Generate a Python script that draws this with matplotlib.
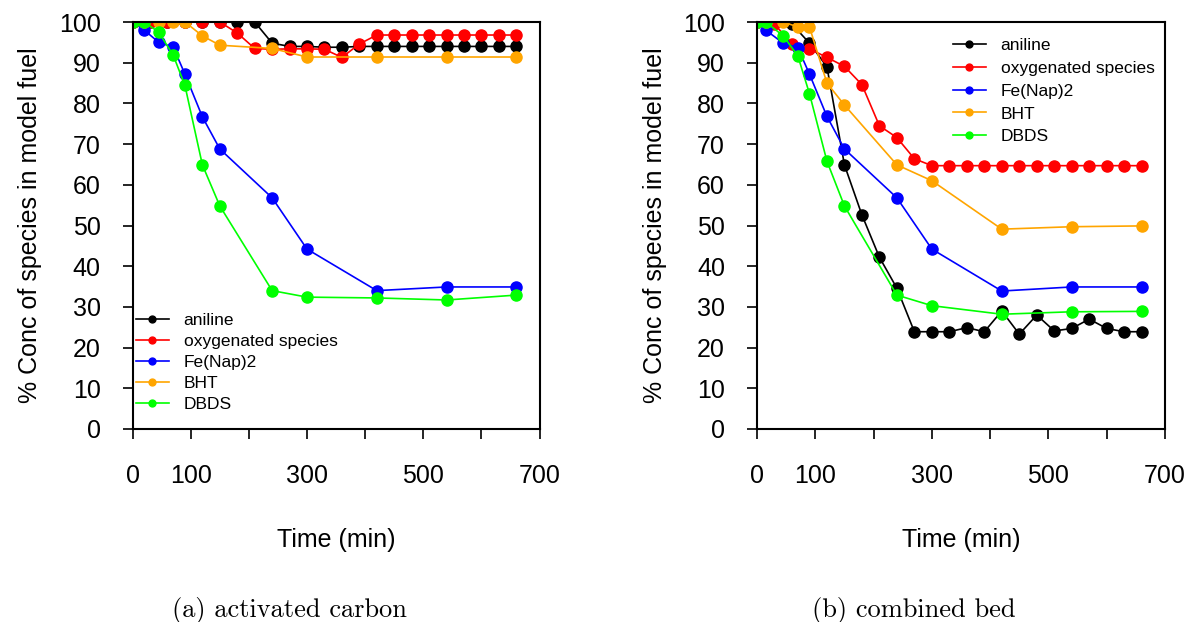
import matplotlib
matplotlib.use("Agg")
import matplotlib.pyplot as plt

# ---------------- data ----------------
t_30 = [0, 30, 60, 90, 120, 150, 180, 210, 240, 270, 300, 330, 360, 390,
        420, 450, 480, 510, 540, 570, 600, 630, 660]
t_ac = [0, 20, 45, 70, 90, 120, 150, 240, 300, 420, 540, 660]
t_cb = [0, 15, 45, 70, 90, 120, 150, 240, 300, 420, 540, 660]

# (a) activated carbon
ac_aniline = [100, 100, 100, 100, 100, 100, 100, 100, 94.8, 94.0, 94.0, 93.8,
              93.8, 94.0, 94.0, 94.0, 94.0, 94.0, 94.0, 94.0, 94.0, 94.0, 94.0]
ac_oxy = [100, 100, 100, 100, 100, 100, 97.3, 93.5, 93.3, 93.4, 93.4, 93.3,
          91.3, 94.6, 96.8, 96.8, 96.8, 96.8, 96.8, 96.8, 96.8, 96.8, 96.8]
ac_fe = [100, 98, 95, 93.8, 87.2, 76.7, 68.8, 56.8, 44.2, 34.0, 34.9, 34.9]
ac_bht = [100, 100, 100, 100, 100, 96.6, 94.3, 93.5, 91.4, 91.4, 91.4, 91.4]
ac_dbds = [100, 100, 97.5, 91.8, 84.4, 64.9, 54.8, 34.0, 32.4, 32.2, 31.7, 32.9]

# (b) combined bed
cb_aniline = [100, 100, 99.5, 94.8, 89.0, 64.9, 52.6, 42.2, 34.6, 23.9, 23.9,
              23.9, 24.9, 23.9, 29.0, 23.3, 28.0, 24.1, 24.7, 27.0, 24.7, 23.9, 23.9]
cb_oxy = [100, 99.5, 94.5, 93.4, 91.3, 89.1, 84.6, 74.5, 71.6, 66.4, 64.7, 64.7,
          64.7, 64.7, 64.7, 64.7, 64.7, 64.7, 64.7, 64.7, 64.7, 64.7, 64.7]
cb_fe = [100, 98, 94.8, 93.7, 87.2, 76.8, 68.8, 56.8, 44.2, 33.9, 34.9, 34.9]
cb_bht = [100, 100, 100, 98.8, 98.8, 85.0, 79.6, 64.9, 61.0, 49.1, 49.7, 49.9]
cb_dbds = [100, 100, 96.6, 91.7, 82.4, 65.8, 54.8, 32.9, 30.3, 28.2, 28.8, 28.9]

labels = ["aniline", "oxygenated species", "Fe(Nap)2", "BHT", "DBDS"]
colors = ["black", "#ff0000", "#0000ff", "#ffa500", "#00ff00"]

xticks = [0, 100, 200, 300, 400, 500, 600, 700]
xticklabels = ["0", "100", "", "300", "", "500", "", "700"]
yticks = list(range(0, 101, 10))

# ---------------- figure ----------------
plt.rcParams['font.family'] = ['Liberation Sans', 'DejaVu Sans']
W, H = 1186, 622
fig = plt.figure(figsize=(W / 100, H / 100), dpi=100)

def px(x0, y0, x1, y1):
    return [x0 / W, 1 - y1 / H, (x1 - x0) / W, (y1 - y0) / H]

ax1 = fig.add_axes(px(132.6, 22, 539.6, 429))
ax2 = fig.add_axes(px(757, 22, 1165, 429))

def draw(ax, series):
    for (t, v), lab, c in zip(series, labels, colors):
        ax.plot(t, v, color=c, lw=1.2, marker='o', ms=8, mec=c, mfc=c, label=lab)
    ax.set_xlim(0, 700)
    ax.set_ylim(0, 100)
    ax.set_xticks(xticks)
    ax.set_xticklabels(xticklabels)
    ax.set_yticks(yticks)
    ax.tick_params(axis='both', direction='out', length=7, width=1.2,
                   labelsize=18, top=False, right=False)
    ax.tick_params(axis='x', pad=18)
    ax.tick_params(axis='y', pad=16)
    for s in ax.spines.values():
        s.set_linewidth(1.5)
    ax.set_xlabel("Time (min)", fontsize=18, labelpad=29)
    ax.set_ylabel("% Conc of species in model fuel", fontsize=18, labelpad=12)

draw(ax1, [(t_30, ac_aniline), (t_30, ac_oxy), (t_ac, ac_fe), (t_ac, ac_bht), (t_ac, ac_dbds)])
draw(ax2, [(t_30, cb_aniline), (t_30, cb_oxy), (t_cb, cb_fe), (t_cb, cb_bht), (t_cb, cb_dbds)])

ax1.legend(loc='upper left', bbox_to_anchor=(136 / W, 1 - 313 / H),
           bbox_transform=fig.transFigure, frameon=False, fontsize=12.5,
           borderpad=0, borderaxespad=0, handlelength=1.9, handletextpad=0.85,
           labelspacing=0.33, markerscale=0.62)
ax2.legend(loc='upper left', bbox_to_anchor=(953 / W, 1 - 38 / H),
           bbox_transform=fig.transFigure, frameon=False, fontsize=12.5,
           borderpad=0, borderaxespad=0, handlelength=1.9, handletextpad=0.85,
           labelspacing=0.44, markerscale=0.62)

fig.text(289.5 / W, 1 - 610 / H, "(a) activated carbon", family='cmr10',
         fontsize=19, ha='center', va='center')
fig.text(914 / W, 1 - 610 / H, "(b) combined bed", family='cmr10',
         fontsize=19, ha='center', va='center')

fig.savefig("out.png", dpi=100)
